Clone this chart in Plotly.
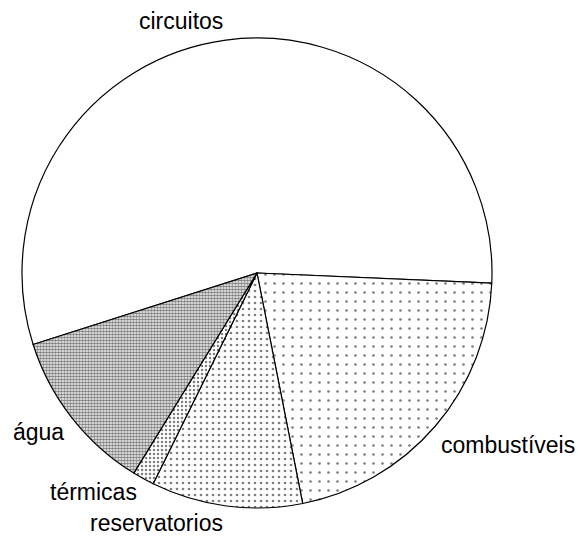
import plotly.graph_objects as go

labels = ["circuitos", "combustíveis", "reservatorios", "térmicas", "água"]
values = [55.6, 21.2, 10.4, 1.5, 11.3]

# label positions (paper pixels) for the outside category names
label_px = {
    "circuitos": (181, 21),
    "combustíveis": (508, 445),
    "reservatorios": (156, 523),
    "térmicas": (93, 492),
    "água": (38, 432),
}

W, H = 578, 539
cx, cy, R = 257, 273, 235

patterns = dict(
    shape=["", ".", ".", ".", "."],
    size=[8, 9, 6, 4, 3],
    solidity=[0.1, 0.07, 0.16, 0.3, 0.65],
    fgcolor="black",
    bgcolor="white",
    fillmode="overlay",
)

fig = go.Figure(
    go.Pie(
        labels=labels,
        values=values,
        sort=False,
        direction="clockwise",
        rotation=252.3,
        textinfo="none",
        hoverinfo="label+value",
        showlegend=False,
        marker=dict(
            colors=["white"] * 5,
            line=dict(color="black", width=1.2),
            pattern=patterns,
        ),
        domain=dict(
            x=[(cx - R) / W, (cx + R) / W],
            y=[(H - cy - R) / H, (H - cy + R) / H],
        ),
    )
)

for name, (px, py) in label_px.items():
    fig.add_annotation(
        text=name,
        x=px / W,
        y=1 - py / H,
        xref="paper",
        yref="paper",
        xanchor="center",
        yanchor="middle",
        showarrow=False,
        font=dict(family="Liberation Sans, Arial, sans-serif", size=23, color="black"),
    )

fig.update_layout(
    width=W,
    height=H,
    margin=dict(l=0, r=0, t=0, b=0),
    paper_bgcolor="white",
    plot_bgcolor="white",
)

fig.write_html(
    "out.html",
    config={"displayModeBar": False},
    post_script="document.body.style.margin='0';document.body.style.overflow='hidden';",
)
